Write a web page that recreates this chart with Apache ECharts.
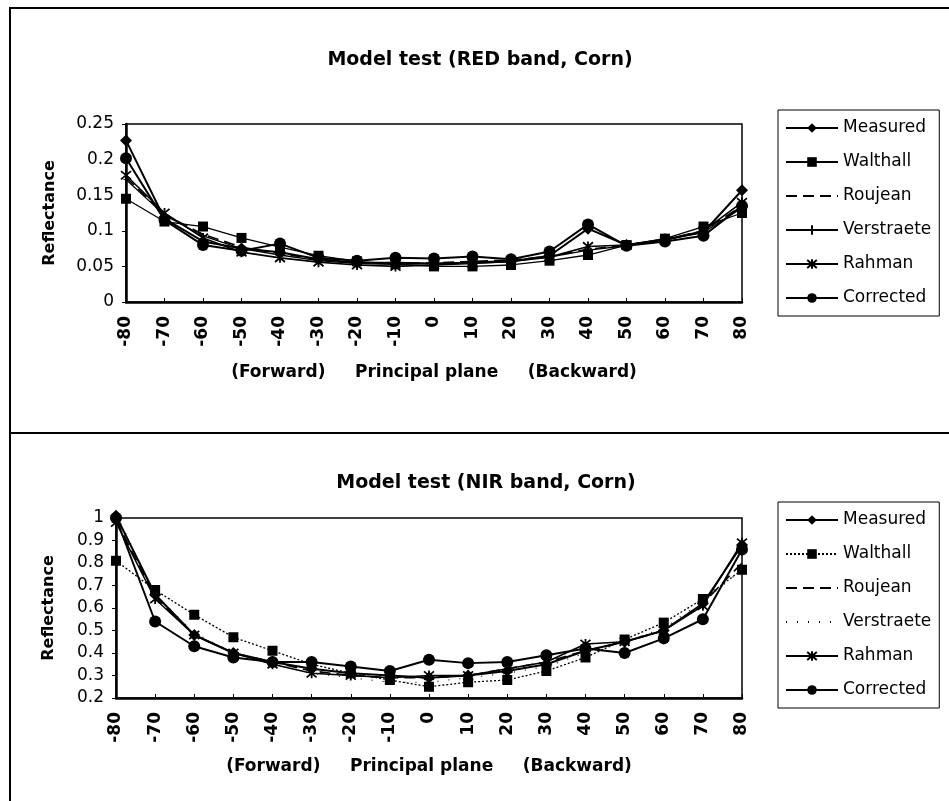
<!DOCTYPE html>
<html>
<head>
<meta charset="utf-8">
<script src="https://cdn.jsdelivr.net/npm/echarts@6/dist/echarts.min.js"></script>
<style>
  html, body { margin: 0; padding: 0; background: #fff; }
  #wrap { position: relative; width: 949px; height: 801px; overflow: hidden; background: #fff; }
  .frame { position: absolute; border: 2px solid #000; box-sizing: border-box; }
  .chart { position: absolute; left: 0; width: 949px; }
</style>
</head>
<body>
<div id="wrap">
  <div class="frame" style="left:9px; top:7px; width:960px; height:427px;"></div>
  <div class="frame" style="left:9px; top:432px; width:960px; height:400px;"></div>
  <div id="c1" class="chart" style="top:0; height:432px;"></div>
  <div id="c2" class="chart" style="top:432px; height:369px;"></div>
</div>
<script>
// ---- data ----
const angles = [-80, -70, -60, -50, -40, -30, -20, -10, 0, 10, 20, 30, 40, 50, 60, 70, 80];
const seriesNames = ['Measured', 'Walthall', 'Roujean', 'Verstraete', 'Rahman', 'Corrected'];

const redMeasured   = [0.227, 0.117, 0.085, 0.075, 0.070, 0.060, 0.055, 0.055, 0.054, 0.055, 0.057, 0.065, 0.103, 0.080, 0.088, 0.098, 0.157];
const redWalthall   = [0.145, 0.113, 0.106, 0.090, 0.077, 0.065, 0.057, 0.053, 0.050, 0.050, 0.052, 0.058, 0.066, 0.080, 0.089, 0.106, 0.125];
const redRoujean    = [0.175, 0.123, 0.095, 0.077, 0.068, 0.060, 0.055, 0.054, 0.055, 0.057, 0.059, 0.064, 0.074, 0.080, 0.088, 0.100, 0.135];
const redVerstraete = [0.172, 0.122, 0.093, 0.075, 0.066, 0.058, 0.054, 0.053, 0.054, 0.056, 0.058, 0.063, 0.073, 0.079, 0.087, 0.098, 0.132];
const redRahman     = [0.178, 0.125, 0.090, 0.070, 0.062, 0.056, 0.052, 0.050, 0.052, 0.054, 0.057, 0.063, 0.078, 0.080, 0.087, 0.100, 0.140];
const redCorrected  = [0.202, 0.115, 0.080, 0.072, 0.082, 0.062, 0.058, 0.062, 0.061, 0.064, 0.060, 0.071, 0.109, 0.079, 0.085, 0.093, 0.135];

const nirMeasured   = [1.01, 0.66, 0.48, 0.40, 0.36, 0.33, 0.31, 0.30, 0.29, 0.30, 0.32, 0.35, 0.41, 0.45, 0.50, 0.62, 0.88];
const nirWalthall   = [0.81, 0.68, 0.57, 0.47, 0.41, 0.35, 0.31, 0.28, 0.25, 0.27, 0.28, 0.32, 0.38, 0.46, 0.535, 0.64, 0.77];
const nirRoujean    = [0.99, 0.65, 0.48, 0.40, 0.36, 0.32, 0.30, 0.29, 0.29, 0.30, 0.33, 0.36, 0.41, 0.45, 0.50, 0.62, 0.80];
const nirVerstraete = [1.02, 0.66, 0.49, 0.40, 0.35, 0.31, 0.29, 0.27, 0.27, 0.29, 0.31, 0.34, 0.40, 0.45, 0.51, 0.63, 0.77];
const nirRahman     = [0.98, 0.64, 0.48, 0.40, 0.35, 0.31, 0.30, 0.29, 0.30, 0.30, 0.33, 0.36, 0.44, 0.45, 0.50, 0.61, 0.89];
const nirCorrected  = [1.00, 0.54, 0.43, 0.38, 0.36, 0.36, 0.34, 0.32, 0.37, 0.355, 0.36, 0.39, 0.42, 0.40, 0.465, 0.55, 0.86];

const redYTicks = { min: 0, max: 0.25, interval: 0.05 };
const nirYTicks = { min: 0.2, max: 1, interval: 0.1 };
const titles = ['Model test (RED band, Corn)', 'Model test (NIR band, Corn)'];
const xName = '(Forward)     Principal plane     (Backward)';
const yName = 'Reflectance';

// ---- styling ----
const FONT = '"DejaVu Sans", "Liberation Sans", Arial, sans-serif';
const ASTER = 'path://M0,0L10,10M10,0L0,10M5,-1L5,11';
const PLUS = 'path://M5,0L5,10M0,5L10,5';
const NOSYM = { symbol: 'circle', symbolSize: 0, itemStyle: { color: 'rgba(0,0,0,0)', borderColor: 'rgba(0,0,0,0)', borderWidth: 0 } };

function mkSeries(name, data, style) {
  return Object.assign({
    name: name, type: 'line', data: data, clip: false,
    symbolSize: 10, showSymbol: true,
    lineStyle: { color: '#000', width: 2, type: 'solid' },
    itemStyle: { color: '#000', borderColor: '#000', borderWidth: 0 },
    emphasis: { disabled: true }, animation: false
  }, style);
}

function styles(isNir) {
  return [
    { symbol: 'diamond', symbolSize: 12 },
    { symbol: 'rect', symbolSize: 10, lineStyle: { color: '#000', width: 1.3, type: isNir ? [2, 2] : 'solid' } },
    Object.assign({ lineStyle: { color: '#000', width: 1.6, type: [11, 6] } }, NOSYM),
    isNir
      ? Object.assign({ lineStyle: { color: '#000', width: 1.2, type: [1, 10] } }, NOSYM)
      : { symbol: PLUS, symbolSize: 5, lineStyle: { color: '#000', width: 1.3, type: 'solid' }, itemStyle: { color: '#000', borderColor: '#000', borderWidth: 1 } },
    { symbol: ASTER, symbolSize: 10, lineStyle: { color: '#000', width: 1.6, type: 'solid' }, itemStyle: { color: 'none', borderColor: '#000', borderWidth: 1.8 } },
    { symbol: 'circle', symbolSize: 12 }
  ];
}

function makeOption(cfg) {
  const st = styles(cfg.isNir);
  return {
    animation: false,
    backgroundColor: 'transparent',
    title: {
      text: cfg.title, left: cfg.titleX, top: cfg.titleY, textAlign: 'center',
      textStyle: { fontFamily: FONT, fontWeight: 'bold', fontSize: 19, color: '#000' }
    },
    legend: {
      orient: 'vertical', left: 778, top: cfg.legendTop,
      data: seriesNames,
      borderColor: '#000', borderWidth: 1, borderRadius: 0,
      padding: [8, 8, 8, 7], itemGap: 14, itemWidth: 52, itemHeight: 12,
      selectedMode: false,
      textStyle: { fontFamily: FONT, fontSize: 17, color: '#000', lineHeight: 20 }
    },
    grid: {
      left: cfg.gridLeft, right: 207, top: cfg.gridTop, height: cfg.gridHeight,
      show: true, borderColor: '#000', borderWidth: 1.5, backgroundColor: 'transparent'
    },
    xAxis: {
      type: 'category', data: angles.map(String), boundaryGap: false,
      axisLine: { lineStyle: { color: '#000', width: 2.5 } },
      axisTick: { inside: true, length: 4, lineStyle: { color: '#000' } },
      axisLabel: { rotate: 90, margin: 14, fontFamily: FONT, fontWeight: 'bold', fontSize: 17, color: '#000' },
      splitLine: { show: false },
      name: xName, nameLocation: 'middle', nameGap: cfg.xNameGap,
      nameTextStyle: { fontFamily: FONT, fontWeight: 'bold', fontSize: 17, color: '#000' }
    },
    yAxis: {
      type: 'value', min: cfg.y.min, max: cfg.y.max, interval: cfg.y.interval,
      axisLine: { show: true, lineStyle: { color: '#000', width: 2.5 } },
      axisTick: { show: true, length: 4, lineStyle: { color: '#000' } },
      axisLabel: { fontFamily: FONT, fontSize: 17, color: '#000', margin: 12,
        formatter: v => String(Math.round(v * 100) / 100) },
      splitLine: { show: false },
      name: yName, nameLocation: 'middle', nameGap: cfg.yNameGap, nameRotate: 90,
      nameTextStyle: { fontFamily: FONT, fontWeight: 'bold', fontSize: 16, color: '#000' }
    },
    series: cfg.data.map((d, i) => mkSeries(seriesNames[i], d, st[i]))
  };
}

const c1 = echarts.init(document.getElementById('c1'), null, { renderer: 'canvas' });
c1.setOption(makeOption({
  isNir: false, title: titles[0], titleX: 475, titleY: 46,
  legendTop: 110, gridLeft: 126, gridTop: 124, gridHeight: 178,
  y: redYTicks, yNameGap: 68, xNameGap: 62,
  data: [redMeasured, redWalthall, redRoujean, redVerstraete, redRahman, redCorrected]
}));

const c2 = echarts.init(document.getElementById('c2'), null, { renderer: 'canvas' });
c2.setOption(makeOption({
  isNir: true, title: titles[1], titleX: 481, titleY: 37,
  legendTop: 70, gridLeft: 116, gridTop: 86, gridHeight: 180,
  y: nirYTicks, yNameGap: 59, xNameGap: 60,
  data: [nirMeasured, nirWalthall, nirRoujean, nirVerstraete, nirRahman, nirCorrected]
}));
</script>
</body>
</html>
